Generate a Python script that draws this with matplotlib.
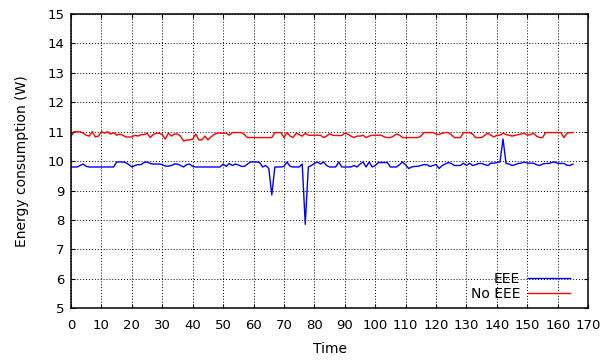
import numpy as np
import matplotlib
matplotlib.use("Agg")
from matplotlib import pyplot as plt

time = np.arange(0, 166)

eee = [9.80, 9.80, 9.80, 9.85, 9.90, 9.82, 9.80, 9.80, 9.80, 9.80,
       9.80, 9.80, 9.80, 9.80, 9.80, 9.97, 9.97, 9.97, 9.95, 9.88,
       9.80, 9.85, 9.88, 9.88, 9.95, 9.97, 9.92, 9.90, 9.90, 9.90,
       9.88, 9.83, 9.83, 9.85, 9.90, 9.90, 9.85, 9.80, 9.88, 9.90,
       9.82, 9.80, 9.80, 9.80, 9.80, 9.80, 9.80, 9.80, 9.80, 9.80,
       9.90, 9.82, 9.92, 9.85, 9.90, 9.87, 9.82, 9.82, 9.90, 9.97,
       9.97, 9.97, 9.95, 9.80, 9.85, 9.75, 8.85, 9.80, 9.80, 9.80,
       9.82, 9.97, 9.82, 9.80, 9.80, 9.80, 9.90, 7.85, 9.80, 9.85,
       9.92, 9.97, 9.90, 9.97, 9.85, 9.80, 9.80, 9.80, 9.97, 9.80,
       9.80, 9.80, 9.80, 9.85, 9.80, 9.90, 9.97, 9.80, 9.97, 9.80,
       9.85, 9.95, 9.95, 9.95, 9.95, 9.80, 9.80, 9.80, 9.88, 9.97,
       9.87, 9.75, 9.80, 9.82, 9.82, 9.85, 9.88, 9.88, 9.82, 9.85,
       9.88, 9.75, 9.85, 9.90, 9.95, 9.92, 9.85, 9.85, 9.85, 9.93,
       9.85, 9.93, 9.85, 9.88, 9.92, 9.92, 9.88, 9.85, 9.93, 9.93,
       9.95, 9.97, 10.75, 9.92, 9.90, 9.85, 9.88, 9.92, 9.93, 9.97,
       9.93, 9.93, 9.93, 9.88, 9.85, 9.90, 9.92, 9.92, 9.95, 9.97,
       9.92, 9.92, 9.92, 9.86, 9.85, 9.90]

no_eee = [10.85, 11.00, 11.00, 11.00, 10.95, 10.88, 10.85, 11.00, 10.82, 10.85,
          11.00, 10.95, 11.00, 10.92, 10.97, 10.88, 10.92, 10.88, 10.82, 10.82,
          10.82, 10.88, 10.85, 10.90, 10.90, 10.95, 10.80, 10.90, 10.95, 10.95,
          10.90, 10.75, 10.95, 10.85, 10.92, 10.92, 10.85, 10.68, 10.72, 10.72,
          10.75, 10.92, 10.72, 10.72, 10.85, 10.72, 10.82, 10.90, 10.95, 10.95,
          10.95, 10.95, 10.88, 10.97, 10.97, 10.97, 10.97, 10.90, 10.80, 10.80,
          10.80, 10.80, 10.80, 10.80, 10.80, 10.80, 10.80, 10.97, 10.97, 10.97,
          10.80, 10.97, 10.85, 10.80, 10.95, 10.90, 10.85, 10.95, 10.88, 10.88,
          10.88, 10.88, 10.88, 10.80, 10.85, 10.93, 10.88, 10.87, 10.87, 10.87,
          10.95, 10.92, 10.85, 10.80, 10.85, 10.85, 10.88, 10.80, 10.85, 10.88,
          10.88, 10.88, 10.88, 10.82, 10.80, 10.80, 10.85, 10.92, 10.88, 10.80,
          10.80, 10.80, 10.80, 10.80, 10.80, 10.85, 10.97, 10.97, 10.97, 10.97,
          10.92, 10.90, 10.95, 10.97, 10.97, 10.90, 10.80, 10.80, 10.80, 10.97,
          10.97, 10.97, 10.92, 10.80, 10.80, 10.80, 10.88, 10.95, 10.88, 10.82,
          10.88, 10.88, 10.95, 10.90, 10.88, 10.85, 10.88, 10.90, 10.92, 10.95,
          10.88, 10.90, 10.95, 10.85, 10.80, 10.80, 10.97, 10.97, 10.97, 10.97,
          10.97, 10.97, 10.80, 10.95, 10.97, 10.97]

xticks = np.arange(0, 171, 10)
yticks = np.arange(5, 16, 1)

fig = plt.figure(figsize=(6.07, 3.6), dpi=100)
ax = fig.add_axes([0.117, 0.144, 0.852, 0.817])

ax.plot(time, eee, color='#0000ff', lw=1, label='EEE')
ax.plot(time, no_eee, color='#ff0000', lw=1, label='No EEE')

ax.set_xlim(0, 170)
ax.set_ylim(5, 15)
ax.set_xticks(xticks)
ax.set_yticks(yticks)
ax.tick_params(axis='both', direction='in', top=True, right=True, labelsize=9.5, length=3)
ax.tick_params(axis='x', pad=8)
ax.tick_params(axis='y', pad=5)
ax.grid(True, color='black', linestyle=(0, (1, 2)), lw=0.7)
for s in ax.spines.values():
    s.set_linewidth(1.1)

ax.set_xlabel('Time', fontsize=10, labelpad=7)
ax.set_ylabel('Energy consumption (W)', fontsize=10, labelpad=13)

ax.legend(loc='lower right', bbox_to_anchor=(0.965, 0.024), frameon=False,
          markerfirst=False, fontsize=10, handlelength=3.0, borderaxespad=0,
          borderpad=0, labelspacing=0.08, handletextpad=0.6)

fig.savefig('out.png', dpi=100)
